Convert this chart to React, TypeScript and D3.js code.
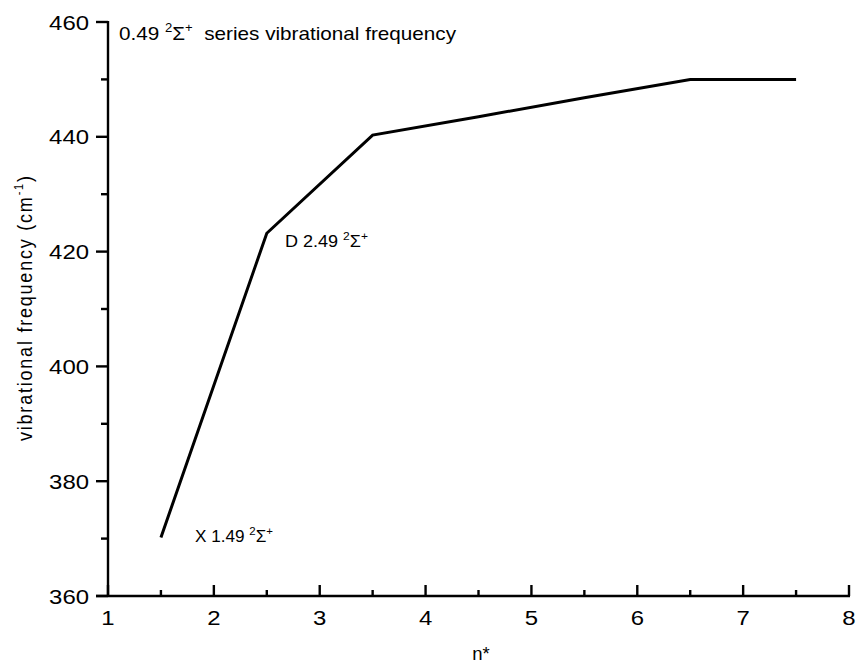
import React from "react";
import * as d3 from "d3";

const nStar: number[] = [1.5, 2.5, 3.5, 4.5, 5.5, 6.5, 7.5];
const freq: number[] = [370.2, 423.2, 440.3, 443.5, 446.8, 450.0, 450.0];
const xTicks: number[] = [1, 2, 3, 4, 5, 6, 7, 8];
const xMinor: number[] = [1.5, 2.5, 3.5, 4.5, 5.5, 6.5, 7.5];
const yTicks: number[] = [360, 380, 400, 420, 440, 460];
const yMinor: number[] = [370, 390, 410, 430, 450];

const W = 857;
const H = 665;
const FONT = "'Liberation Sans', Arial, sans-serif";
const SX = 1.14;

export default function App() {
  const x = d3.scaleLinear().domain([1, 8]).range([108, 849]);
  const y = d3.scaleLinear().domain([360, 460]).range([596, 22]);
  const line = d3
    .line<number>()
    .x((_, i) => x(nStar[i]))
    .y((d) => y(d));
  const path = line(freq) || "";
  const x0 = x(1);
  const y0 = y(360);
  const sw = 2.4;

  return (
    <svg
      width={W}
      height={H}
      viewBox={`0 0 ${W} ${H}`}
      style={{ position: "fixed", left: 0, top: 0, background: "#fff", display: "block" }}
      fontFamily={FONT}
    >
      <rect x={0} y={0} width={W} height={H} fill="#fff" />
      {/* Y axis */}
      <line x1={x0} x2={x0} y1={y(460) - 1} y2={y0 + 1} stroke="#000" strokeWidth={sw} />
      {yTicks.map((t) => (
        <g key={"yt" + t}>
          <line x1={x0 - 12} x2={x0} y1={y(t)} y2={y(t)} stroke="#000" strokeWidth={sw} />
          <text
            transform={`translate(89, ${y(t)}) scale(${SX}, 1)`}
            dy="0.36em"
            textAnchor="end"
            fontSize={21}
            fill="#000"
          >
            {t}
          </text>
        </g>
      ))}
      {yMinor.map((t) => (
        <line key={"ym" + t} x1={x0 - 7} x2={x0} y1={y(t)} y2={y(t)} stroke="#000" strokeWidth={sw} />
      ))}
      {/* X axis */}
      <line x1={x0 - 12} x2={x(8) + 1} y1={y0} y2={y0} stroke="#000" strokeWidth={sw} />
      {xTicks.map((t) => (
        <g key={"xt" + t}>
          <line x1={x(t)} x2={x(t)} y1={y0} y2={y0 - 11} stroke="#000" strokeWidth={sw} />
          <text
            transform={`translate(${x(t)}, 625) scale(${SX}, 1)`}
            textAnchor="middle"
            fontSize={21}
            fill="#000"
          >
            {t}
          </text>
        </g>
      ))}
      {xMinor.map((t) => (
        <line key={"xm" + t} x1={x(t)} x2={x(t)} y1={y0} y2={y0 - 6} stroke="#000" strokeWidth={sw} />
      ))}
      {/* Data line */}
      <path d={path} fill="none" stroke="#000" strokeWidth={3} strokeLinejoin="miter" />
      {/* Axis titles */}
      <text x={481} y={660} textAnchor="middle" fontSize={18.5} fill="#000">
        n*
      </text>
      <text
        transform={`translate(32, 308.5) scale(${SX}, 1) rotate(-90)`}
        textAnchor="middle"
        fontSize={18}
        textLength={265}
        lengthAdjust="spacing"
        fill="#000"
      >
        vibrational frequency (cm
        <tspan fontSize={11} dy={-8}>-1</tspan>
        <tspan dy={8}>)</tspan>
      </text>
      {/* Title in plot */}
      <text x={119} y={40} fontSize={19} fill="#000" textLength={337} lengthAdjust="spacingAndGlyphs">
        0.49{" "}
        <tspan fontSize={12} dy={-8}>2</tspan>
        <tspan dy={8}>Σ</tspan>
        <tspan fontSize={12} dy={-8}>+</tspan>
        <tspan dy={8} xmlSpace="preserve">{"  series vibrational frequency"}</tspan>
      </text>
      {/* Annotations */}
      <text x={285} y={247} fontSize={16.5} fill="#000" textLength={83} lengthAdjust="spacingAndGlyphs">
        D 2.49{" "}
        <tspan fontSize={11} dy={-7}>2</tspan>
        <tspan dy={7}>Σ</tspan>
        <tspan fontSize={11} dy={-7}>+</tspan>
      </text>
      <text x={195} y={542} fontSize={16.5} fill="#000" textLength={78} lengthAdjust="spacingAndGlyphs">
        X 1.49{" "}
        <tspan fontSize={11} dy={-7}>2</tspan>
        <tspan dy={7}>Σ</tspan>
        <tspan fontSize={11} dy={-7}>+</tspan>
      </text>
    </svg>
  );
}
